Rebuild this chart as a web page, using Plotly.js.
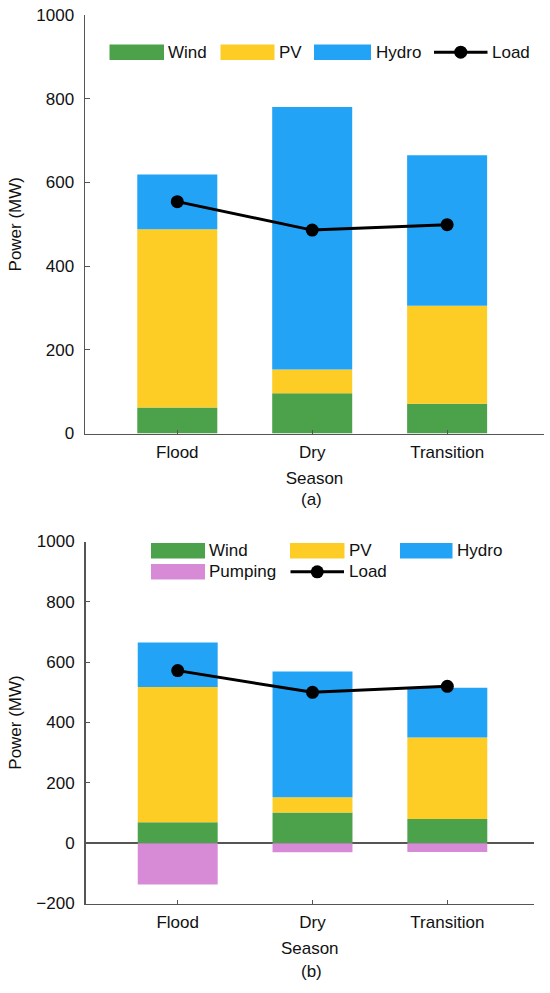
<!DOCTYPE html>
<html>
<head>
<meta charset="utf-8">
<script src="https://cdn.plot.ly/plotly-3.0.1.min.js"></script>
<style>
html,body{margin:0;padding:0;background:#fff;}
#chart{width:550px;height:993px;}
</style>
</head>
<body>
<div id="chart"></div>
<script>
// ---- data ----
const seasons = ['Flood', 'Dry', 'Transition'];
// panel (a)
const windA  = [62, 96, 71];
const pvA    = [426, 57, 234];
const hydroA = [131, 627, 360];
const loadA  = [554, 486, 499];
// panel (b)
const windB  = [69, 102, 80];
const pvB    = [449, 50, 270];
const hydroB = [147, 417, 165];
const pumpB  = [-137, -30, -29];
const loadB  = [572, 500, 520];
// ticks
const yTicksA = [0, 200, 400, 600, 800, 1000];
const yTicksB = [-200, 0, 200, 400, 600, 800, 1000];
const yTickTextB = ['\u2212200', '0', '200', '400', '600', '800', '1000'];

// ---- styles ----
const C = {wind: '#4ba24b', pv: '#fdcd26', hydro: '#22a3f6', pump: '#d78bd7', load: '#000000'};
const FONT = 'Liberation Sans, Arial, Helvetica, sans-serif';
const FS = 17;
const AX = '#555555';
const W = 550, H = 993;
const px = x => x / W;
const py = y => (H - y) / H;
const BW = 0.593;

function bar(x, y, name, color, xa, ya) {
  return {type: 'bar', x: x, y: y, name: name, xaxis: xa, yaxis: ya,
    marker: {color: color, line: {width: 0}}, width: BW, showlegend: false, hoverinfo: 'y+name'};
}
function line(x, y, xa, ya) {
  return {type: 'scatter', mode: 'lines+markers', x: x, y: y, name: 'Load', xaxis: xa, yaxis: ya,
    line: {color: C.load, width: 3}, marker: {color: C.load, size: 13}, showlegend: false};
}

const traces = [
  bar(seasons, windA, 'Wind', C.wind, 'x', 'y'),
  bar(seasons, pvA, 'PV', C.pv, 'x', 'y'),
  bar(seasons, hydroA, 'Hydro', C.hydro, 'x', 'y'),
  line(seasons, loadA, 'x', 'y'),
  bar(seasons, windB, 'Wind', C.wind, 'x2', 'y2'),
  bar(seasons, pvB, 'PV', C.pv, 'x2', 'y2'),
  bar(seasons, hydroB, 'Hydro', C.hydro, 'x2', 'y2'),
  bar(seasons, pumpB, 'Pumping', C.pump, 'x2', 'y2'),
  line(seasons, loadB, 'x2', 'y2')
];

// ---- custom legends (wide swatches) ----
const shapes = [];
const annotations = [];
function legendItem(kind, color, label, x0, x1, yc, tx) {
  if (kind === 'bar') {
    shapes.push({type: 'rect', xref: 'paper', yref: 'paper', x0: px(x0), x1: px(x1),
      y0: py(yc + 7.7), y1: py(yc - 7.7), fillcolor: color, line: {width: 0}});
  } else {
    shapes.push({type: 'line', xref: 'paper', yref: 'paper', x0: px(x0), x1: px(x1),
      y0: py(yc), y1: py(yc), line: {color: color, width: 3}});
    const xm = (x0 + x1) / 2;
    shapes.push({type: 'circle', xref: 'paper', yref: 'paper', x0: px(xm - 6.5), x1: px(xm + 6.5),
      y0: py(yc + 6.5), y1: py(yc - 6.5), fillcolor: color, line: {color: color, width: 0}});
  }
  annotations.push({xref: 'paper', yref: 'paper', x: px(tx), y: py(yc), xanchor: 'left', yanchor: 'middle',
    text: label, showarrow: false, font: {family: FONT, size: FS, color: '#111'}});
}
// legend (a)
legendItem('bar', C.wind, 'Wind', 109.5, 164, 52.2, 165.5);
legendItem('bar', C.pv, 'PV', 220.5, 274.5, 52.2, 276.5);
legendItem('bar', C.hydro, 'Hydro', 314, 371, 52.2, 373.5);
legendItem('line', C.load, 'Load', 434, 487.5, 52.2, 489.5);
// legend (b)
legendItem('bar', C.wind, 'Wind', 151, 205, 550.8, 206.5);
legendItem('bar', C.pv, 'PV', 290, 344.5, 550.8, 347);
legendItem('bar', C.hydro, 'Hydro', 400, 452.5, 550.8, 454.5);
legendItem('bar', C.pump, 'Pumping', 151, 205, 571.8, 206.5);
legendItem('line', C.load, 'Load', 290.5, 344, 571.8, 347);

annotations.push({xref: 'paper', yref: 'paper', x: px(311), y: py(499.5), xanchor: 'center', yanchor: 'middle',
  text: '(a)', showarrow: false, font: {family: FONT, size: FS, color: '#111'}});
annotations.push({xref: 'paper', yref: 'paper', x: px(311), y: py(971.7), xanchor: 'center', yanchor: 'middle',
  text: '(b)', showarrow: false, font: {family: FONT, size: FS, color: '#111'}});

const tickFont = {family: FONT, size: FS, color: '#111'};
function xAxis(domain, range, anchor) {
  return {domain: domain, anchor: anchor, type: 'category', range: range,
    showline: true, linecolor: AX, linewidth: 1.5, ticks: 'inside', ticklen: 4, tickwidth: 1.2, tickcolor: AX,
    tickfont: tickFont, showgrid: false, zeroline: false, fixedrange: true, automargin: false,
    ticklabelstandoff: 3,
    title: {text: 'Season', font: {family: FONT, size: FS, color: '#111'}, standoff: 10}};
}
function yAxis(domain, range, tv, tt, anchor, zl) {
  return {domain: domain, anchor: anchor, range: range, tickvals: tv, ticktext: tt,
    showline: true, linecolor: AX, linewidth: 1.5, ticks: 'inside', ticklen: 4.5, tickwidth: 1.2, tickcolor: AX,
    tickfont: tickFont, showgrid: false, zeroline: zl, zerolinecolor: AX, zerolinewidth: 1.5,
    fixedrange: true, automargin: false, ticklabelstandoff: 6,
    title: {text: 'Power (MW)', font: {family: FONT, size: FS, color: '#111'}, standoff: 10}};
}

const layout = {
  width: W, height: H,
  margin: {l: 0, r: 0, t: 0, b: 0, pad: 0},
  paper_bgcolor: '#fff', plot_bgcolor: 'rgba(0,0,0,0)',
  barmode: 'relative', bargap: 0.4,
  showlegend: false,
  font: {family: FONT, size: FS, color: '#111'},
  xaxis: xAxis([85 / W, 544 / W], [-0.684, 2.718], 'y'),
  yaxis: yAxis([py(433.5), py(15)], [0, 1000], yTicksA, yTicksA.map(String), 'x', false),
  xaxis2: xAxis([85.5 / W, 534 / W], [-0.684, 2.643], 'y2'),
  yaxis2: yAxis([py(903.5), py(541.5)], [-200, 1000], yTicksB, yTickTextB, 'x2', true),
  shapes: shapes,
  annotations: annotations
};

Plotly.newPlot('chart', traces, layout, {displayModeBar: false, staticPlot: true});
</script>
</body>
</html>
